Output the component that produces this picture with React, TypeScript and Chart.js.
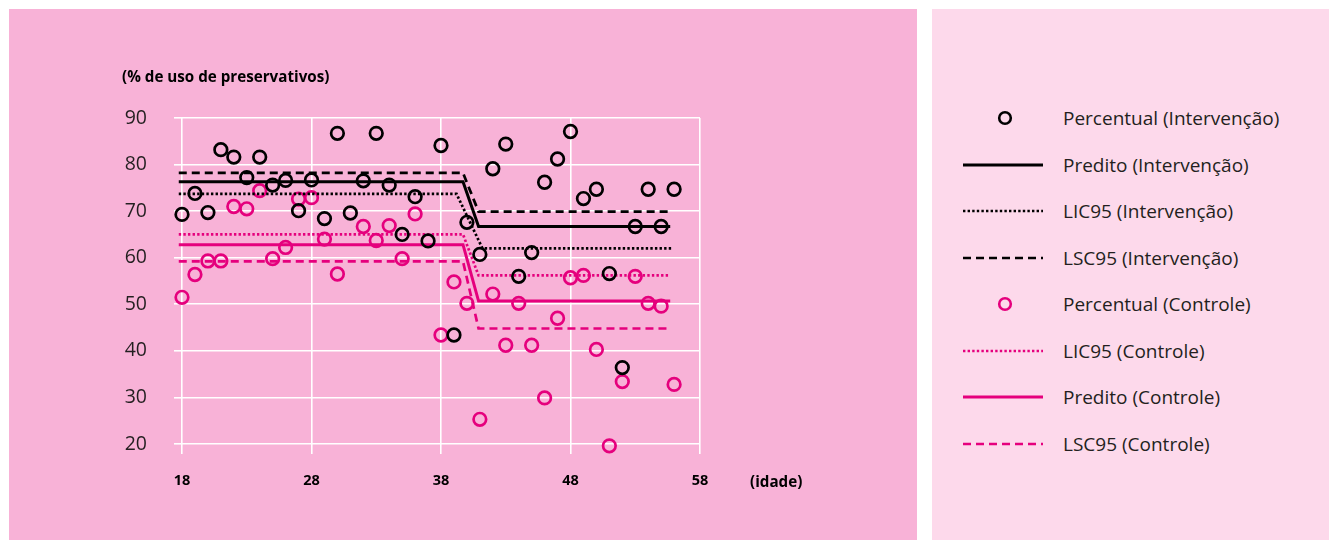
import React, { useEffect, useRef } from "react";
import { Chart, registerables } from "chart.js";

Chart.register(...registerables);

// ---------- data ----------
const interventionAges = [18, 19, 20, 21, 22, 23, 24, 25, 26, 27, 28, 29, 30, 31, 32, 33, 34, 35, 36, 37, 38, 39, 40, 41, 42, 43, 44, 45, 46, 47, 48, 49, 50, 51, 52, 53, 54, 55, 56];
const interventionPct = [69.3, 73.8, 69.7, 83.2, 81.6, 77.2, 81.6, 75.6, 76.6, 70.1, 76.7, 68.4, 86.7, 69.6, 76.5, 86.7, 75.6, 65.0, 73.1, 63.6, 84.1, 43.4, 67.6, 60.7, 79.1, 84.4, 56.0, 61.1, 76.2, 81.2, 87.1, 72.7, 74.7, 56.6, 36.4, 66.7, 74.7, 66.7, 74.7];

const controlAges = [18, 19, 20, 21, 22, 23, 24, 25, 26, 27, 28, 29, 30, 32, 33, 34, 35, 36, 38, 39, 40, 41, 42, 43, 44, 45, 46, 47, 48, 49, 50, 51, 52, 53, 54, 55, 56];
const controlPct = [51.5, 56.4, 59.3, 59.3, 71.0, 70.5, 74.4, 59.8, 62.2, 72.6, 72.9, 64.0, 56.5, 66.7, 63.7, 66.9, 59.8, 69.4, 43.4, 54.8, 50.2, 25.3, 52.2, 41.2, 50.2, 41.2, 29.9, 47.0, 55.7, 56.2, 40.3, 19.6, 33.4, 56.0, 50.2, 49.6, 32.8];

// step lines (age before / after the break)
const lineAges = [17.75, 39.7, 40.9, 55.7];
const licIntAges = [17.75, 39.2, 41.2, 55.8];
const predIntervencao = [76.3, 76.3, 66.7, 66.7];
const licIntervencao = [73.7, 73.7, 62.0, 62.0];
const lscIntervencao = [78.2, 78.2, 69.9, 69.9];
const predControle = [62.8, 62.8, 50.7, 50.7];
const licControle = [65.0, 65.0, 56.2, 56.2];
const lscControle = [59.2, 59.2, 44.8, 44.8];

const xTickLabels = ["18", "28", "38", "48", "58"];
const yTickLabels = ["20", "30", "40", "50", "60", "70", "80", "90"];

const BLACK = "#000000";
const PINK = "#e5007d";

const pts = (xs: number[], ys: number[]) => xs.map((x, i) => ({ x, y: ys[i] }));

type Kind = "point" | "solid" | "dotted" | "dashed";
const DOT = [2.4, 2.2];
const DASH = [8, 5];

const series: { label: string; color: string; kind: Kind; data: { x: number; y: number }[] }[] = [
  { label: "Percentual (Intervenção)", color: BLACK, kind: "point", data: pts(interventionAges, interventionPct) },
  { label: "Predito (Intervenção)", color: BLACK, kind: "solid", data: pts(lineAges, predIntervencao) },
  { label: "LIC95 (Intervenção)", color: BLACK, kind: "dotted", data: pts(licIntAges, licIntervencao) },
  { label: "LSC95 (Intervenção)", color: BLACK, kind: "dashed", data: pts(lineAges, lscIntervencao) },
  { label: "Percentual (Controle)", color: PINK, kind: "point", data: pts(controlAges, controlPct) },
  { label: "LIC95 (Controle)", color: PINK, kind: "dotted", data: pts(lineAges, licControle) },
  { label: "Predito (Controle)", color: PINK, kind: "solid", data: pts(lineAges, predControle) },
  { label: "LSC95 (Controle)", color: PINK, kind: "dashed", data: pts(lineAges, lscControle) },
];

const FONT = "'Open Sans', 'Noto Sans', sans-serif";

function Swatch({ color, kind }: { color: string; kind: Kind }) {
  return (
    <svg width={80} height={16} style={{ display: "block" }}>
      {kind === "point" ? (
        <circle cx={42} cy={8} r={5.8} fill="none" stroke={color} strokeWidth={2.6} />
      ) : (
        <line
          x1={0}
          y1={8}
          x2={80}
          y2={8}
          stroke={color}
          strokeWidth={kind === "solid" ? 3 : 2.6}
          strokeDasharray={kind === "dotted" ? DOT.join(" ") : kind === "dashed" ? DASH.join(" ") : undefined}
        />
      )}
    </svg>
  );
}

export default function App() {
  const ref = useRef<HTMLCanvasElement>(null);

  useEffect(() => {
    const canvas = ref.current!;
    const datasets = series.map((s) =>
      s.kind === "point"
        ? {
            label: s.label,
            data: s.data,
            showLine: false,
            clip: false,
            pointStyle: "circle",
            pointRadius: 6.3,
            pointBorderWidth: 2.7,
            pointBorderColor: s.color,
            pointBackgroundColor: "rgba(0,0,0,0)",
            borderColor: s.color,
            backgroundColor: "rgba(0,0,0,0)",
          }
        : {
            label: s.label,
            data: s.data,
            showLine: true,
            clip: false,
            pointRadius: 0,
            borderColor: s.color,
            backgroundColor: s.color,
            borderWidth: s.kind === "solid" ? 3 : 2.7,
            borderDash: s.kind === "dotted" ? DOT : s.kind === "dashed" ? DASH : [],
            borderCapStyle: "butt",
            tension: 0,
          }
    );

    const chart = new Chart(canvas, {
      type: "scatter",
      data: { datasets: datasets as any },
      options: {
        responsive: false,
        animation: false,
        devicePixelRatio: 1,
        layout: { padding: { top: 118, right: 60, left: 0, bottom: 0 } },
        plugins: { legend: { display: false }, tooltip: { enabled: false }, title: { display: false } },
        scales: {
          x: {
            type: "linear",
            min: 18,
            max: 58,
            afterFit: (s: any) => {
              s.height = 97;
            },
            afterBuildTicks: (s: any) => {
              s.ticks = xTickLabels.map((v) => ({ value: Number(v) }));
            },
            ticks: {
              stepSize: 10,
              padding: 18,
              color: "#000",
              font: { family: FONT, size: 14.5, weight: "bold" },
              maxRotation: 0,
            },
            grid: { color: "#ffffff", lineWidth: 1.6, tickLength: 10 },
            border: { display: false },
          },
          y: {
            type: "linear",
            min: 20,
            max: 90,
            afterFit: (s: any) => {
              s.width = 182;
            },
            afterBuildTicks: (s: any) => {
              s.ticks = yTickLabels.map((v) => ({ value: Number(v) }));
            },
            ticks: {
              stepSize: 10,
              padding: 27,
              color: "#231f20",
              font: { family: FONT, size: 19.5 },
            },
            grid: { color: "#ffffff", lineWidth: 1.6, tickLength: 8 },
            border: { display: false },
          },
        },
      },
    });
    return () => chart.destroy();
  }, []);

  const rowTop = 118;
  const rowGap = 46.5;

  return (
    <div style={{ position: "absolute", left: 0, top: 0, width: 1329, height: 541, background: "#ffffff", overflow: "hidden", fontFamily: FONT }}>
      <div style={{ position: "absolute", left: 9, top: 9, width: 908, height: 531, background: "#f8b2d7" }} />
      <div style={{ position: "absolute", left: 932, top: 9, width: 397, height: 531, background: "#fdd9eb" }} />
      <canvas ref={ref} width={760} height={541} style={{ position: "absolute", left: 0, top: 0, width: 760, height: 541 }} />
      <div style={{ position: "absolute", left: 122, top: 76 - 10, height: 20, lineHeight: "20px", fontSize: 15.2, fontWeight: 700, color: "#000", whiteSpace: "nowrap" }}>
        (% de uso de preservativos)
      </div>
      <div style={{ position: "absolute", left: 750, top: 481 - 10, height: 20, lineHeight: "20px", fontSize: 15.2, fontWeight: 700, color: "#000", whiteSpace: "nowrap" }}>
        (idade)
      </div>
      {series.map((s, i) => (
        <div key={s.label} style={{ position: "absolute", left: 963, top: rowTop + i * rowGap - 13, height: 26, display: "flex", alignItems: "center" }}>
          <Swatch color={s.color} kind={s.kind} />
          <span style={{ marginLeft: 20, fontSize: 19, lineHeight: "26px", color: "#231f20", whiteSpace: "nowrap" }}>{s.label}</span>
        </div>
      ))}
    </div>
  );
}
